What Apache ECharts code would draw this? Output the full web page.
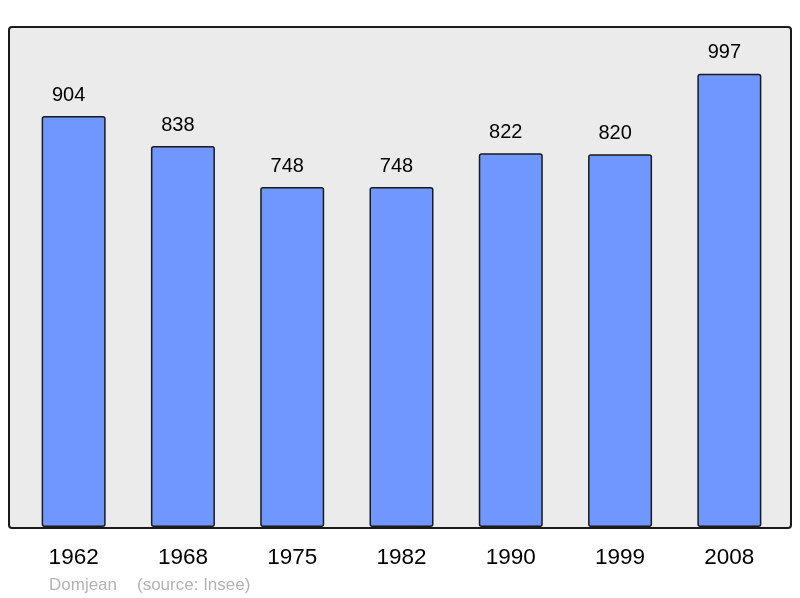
<!DOCTYPE html>
<html>
<head>
<meta charset="utf-8">
<script src="https://cdn.jsdelivr.net/npm/echarts@6/dist/echarts.min.js"></script>
<style>
html,body{margin:0;padding:0;background:#fff;}
#c{width:800px;height:598px;}
</style>
</head>
<body>
<div id="c"></div>
<script>
var years = ['1962', '1968', '1975', '1982', '1990', '1999', '2008'];
var population = [904, 838, 748, 748, 822, 820, 997];
var footerName = 'Domjean';
var footerSource = '(source: Insee)';

var chart = echarts.init(document.getElementById('c'), null, {renderer: 'canvas'});
chart.setOption({
  animation: false,
  backgroundColor: '#ffffff',
  graphic: [
    {
      type: 'rect', z: -10,
      shape: {x: 9, y: 27, width: 782, height: 501, r: 3},
      style: {fill: '#ebebeb', stroke: '#1a1a1a', lineWidth: 2}
    },
    {
      type: 'text', left: 49, top: 577,
      style: {text: footerName, fill: '#b3b3b3', font: '17px "Liberation Sans", Arial, sans-serif'}
    },
    {
      type: 'text', left: 137, top: 577,
      style: {text: footerSource, fill: '#b3b3b3', font: '17px "Liberation Sans", Arial, sans-serif'}
    }
  ],
  grid: {left: 19, width: 765, top: 27, height: 500, containLabel: false},
  xAxis: {
    type: 'category',
    data: years,
    axisLine: {show: false},
    axisTick: {show: false},
    axisLabel: {
      margin: 19,
      color: '#000',
      fontSize: 22.5,
      fontFamily: '"Liberation Sans", Arial, sans-serif'
    }
  },
  yAxis: {
    type: 'value',
    min: 0, max: 1100,
    show: false,
    splitLine: {show: false}
  },
  series: [{
    type: 'bar',
    data: population,
    barWidth: 64,
    itemStyle: {
      color: '#7096ff',
      borderColor: '#1a1a1a',
      borderWidth: 1.5,
      borderRadius: 2
    },
    label: {
      show: true,
      position: 'top',
      distance: 11,
      offset: [-5, 0],
      color: '#000',
      fontSize: 20,
      fontFamily: '"Liberation Sans", Arial, sans-serif'
    }
  }]
});
</script>
</body>
</html>
